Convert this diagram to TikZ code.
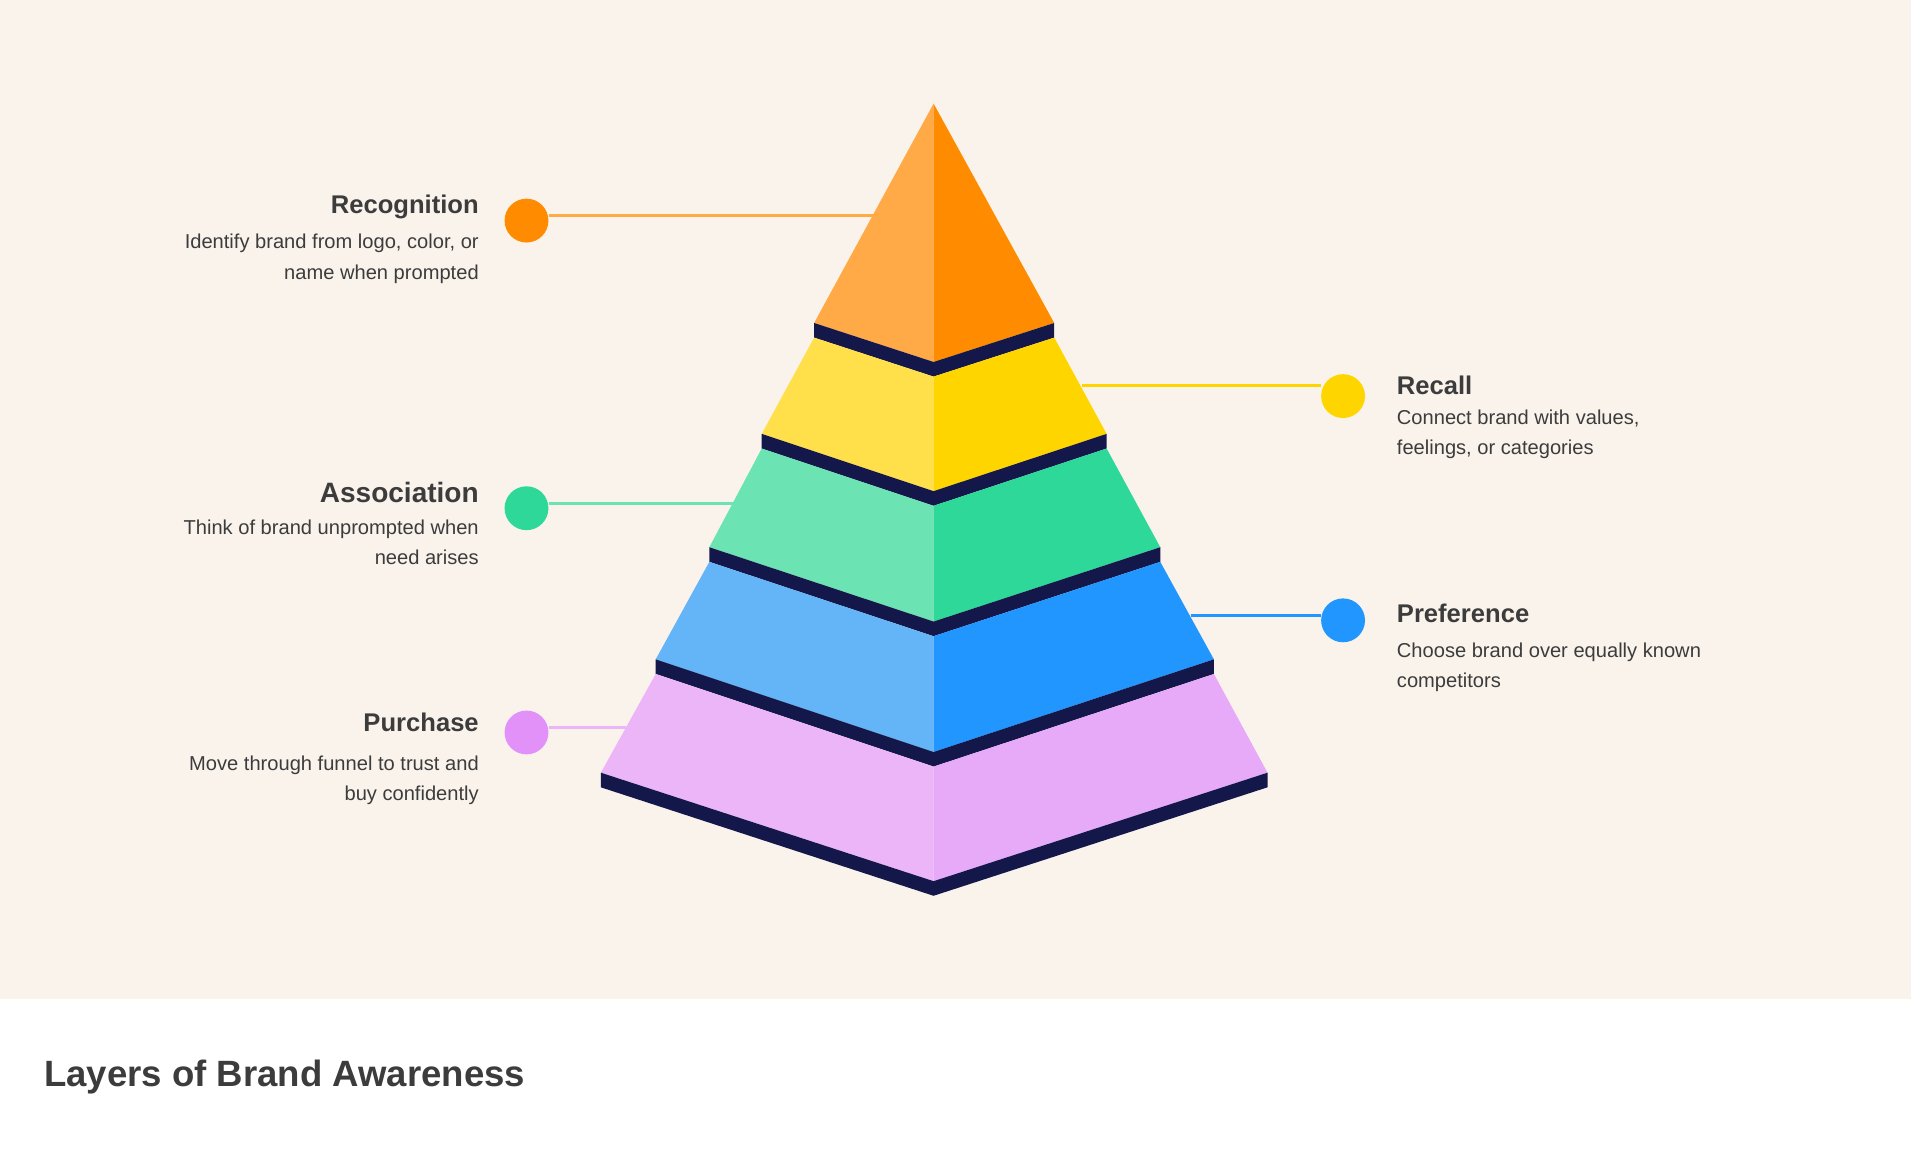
\documentclass[tikz,border=0pt]{standalone}
\usepackage{fontspec}
\setmainfont{Liberation Sans}
\definecolor{bg}{HTML}{FAF3EC}
\definecolor{txt}{HTML}{3C3C3C}
\definecolor{dk}{HTML}{14174A}
\definecolor{oL}{HTML}{FFA947}\definecolor{oR}{HTML}{FF8C00}
\definecolor{yL}{HTML}{FFDF4A}\definecolor{yR}{HTML}{FFD500}
\definecolor{gL}{HTML}{6BE3B3}\definecolor{gR}{HTML}{2ED898}
\definecolor{bL}{HTML}{64B5F8}\definecolor{bR}{HTML}{2196FF}
\definecolor{pL}{HTML}{EBB5F8}\definecolor{pR}{HTML}{E6AAF9}
\definecolor{pC}{HTML}{E291F9}
\tikzset{
 dot/.style={circle,minimum size=36pt,inner sep=0pt,fill=#1},
 lnk/.style={draw=#1,line width=2.5pt},
 ttl/.style={font=\fontsize{21}{24}\selectfont\bfseries,text=txt,inner sep=0pt},
 dscL/.style={font=\fontsize{16.5}{25}\selectfont,text=txt,align=right,inner sep=0pt},
 dscR/.style={font=\fontsize{16.5}{25}\selectfont,text=txt,align=left,inner sep=0pt},
}
\begin{document}
\begin{tikzpicture}[x=1pt,y=-1pt]
\useasboundingbox (0,0) rectangle (1568,952);
\fill[bg] (0,0) rectangle (1568,820);
\fill[white] (0,820) rectangle (1568,952);
% layers: left-top, right-top, center-top, left-bottom, right-bottom, center-bottom
\newcommand{\lay}[8]{%
 \fill[#7] (#1) -- (#3) -- (#6) -- (#4) -- cycle;
 \fill[#8] (#3) -- (#2) -- (#5) -- (#6) -- cycle;}
% orange
\fill[oL] (766,85) -- (766,297) -- (668,265) -- cycle;
\fill[oR] (766,85) -- (865,265) -- (766,297) -- cycle;
\fill[dk] (668,265) -- (766,297) -- (865,265) -- (865,277) -- (766,309) -- (668,277) -- cycle;
% yellow
\lay{668,277}{865,277}{766,309}{625,356}{908,356}{766,403}{yL}{yR}
\fill[dk] (625,356) -- (766,403) -- (908,356) -- (908,368) -- (766,415) -- (625,368) -- cycle;
% green
\lay{625,368}{908,368}{766,415}{582,449}{952,449}{766,510}{gL}{gR}
\fill[dk] (582,449) -- (766,510) -- (952,449) -- (952,461) -- (766,522) -- (582,461) -- cycle;
% blue
\lay{582,461}{952,461}{766,522}{538,541}{996,541}{766,617}{bL}{bR}
\fill[dk] (538,541) -- (766,617) -- (996,541) -- (996,553) -- (766,629) -- (538,553) -- cycle;
% purple
\lay{538,553}{996,553}{766,629}{493,634}{1040,634}{766,723}{pL}{pR}
\fill[dk] (493,634) -- (766,723) -- (1040,634) -- (1040,646) -- (766,735) -- (493,646) -- cycle;
% connectors
\coordinate (e1) at (720,177); \coordinate (e2) at (888,316);
\coordinate (e3) at (606,413); \coordinate (e4) at (977,505);
\coordinate (e5) at (514,597);
\node[dot=oR] (c1) at (432,181) {};
\node[dot=yR] (c2) at (1102,325) {};
\node[dot=gR] (c3) at (432,417) {};
\node[dot=bR] (c4) at (1102,509) {};
\node[dot=pC] (c5) at (432,601) {};
\draw[lnk=oL] (c1.east |- e1) -- (e1);
\draw[lnk=yR] (e2) -- (c2.west |- e2);
\draw[lnk=gL] (c3.east |- e3) -- (e3);
\draw[lnk=bR] (e4) -- (c4.west |- e4);
\draw[lnk=pL] (c5.east |- e5) -- (e5);
% texts
\node[ttl,anchor=east] (t1) at (393,170) {Recognition};
\node[dscL,anchor=north east] (d1) at (393,192) {Identify brand from logo, color, or\\name when prompted};
\node[ttl,anchor=west] (t2) at (1146,316) {Recall};
\node[dscR,anchor=north west] (d2) at (1146,336) {Connect brand with values,\\feelings, or categories};
\node[ttl,anchor=east,font=\fontsize{23}{26}\selectfont\bfseries] (t3) at (393,404) {Association};
\node[dscL,anchor=north east] (d3) at (393,426) {Think of brand unprompted when\\need arises};
\node[ttl,anchor=west] (t4) at (1146,503) {Preference};
\node[dscR,anchor=north west] (d4) at (1146,527) {Choose brand over equally known\\competitors};
\node[ttl,anchor=east] (t5) at (393,593) {Purchase};
\node[dscL,anchor=north east] (d5) at (393,620) {Move through funnel to trust and\\buy confidently};
\node[anchor=west,inner sep=0pt,text=txt,font=\fontsize{30}{34}\selectfont\bfseries] (title) at (36,884) {Layers of Brand Awareness};
\end{tikzpicture}
\end{document}
